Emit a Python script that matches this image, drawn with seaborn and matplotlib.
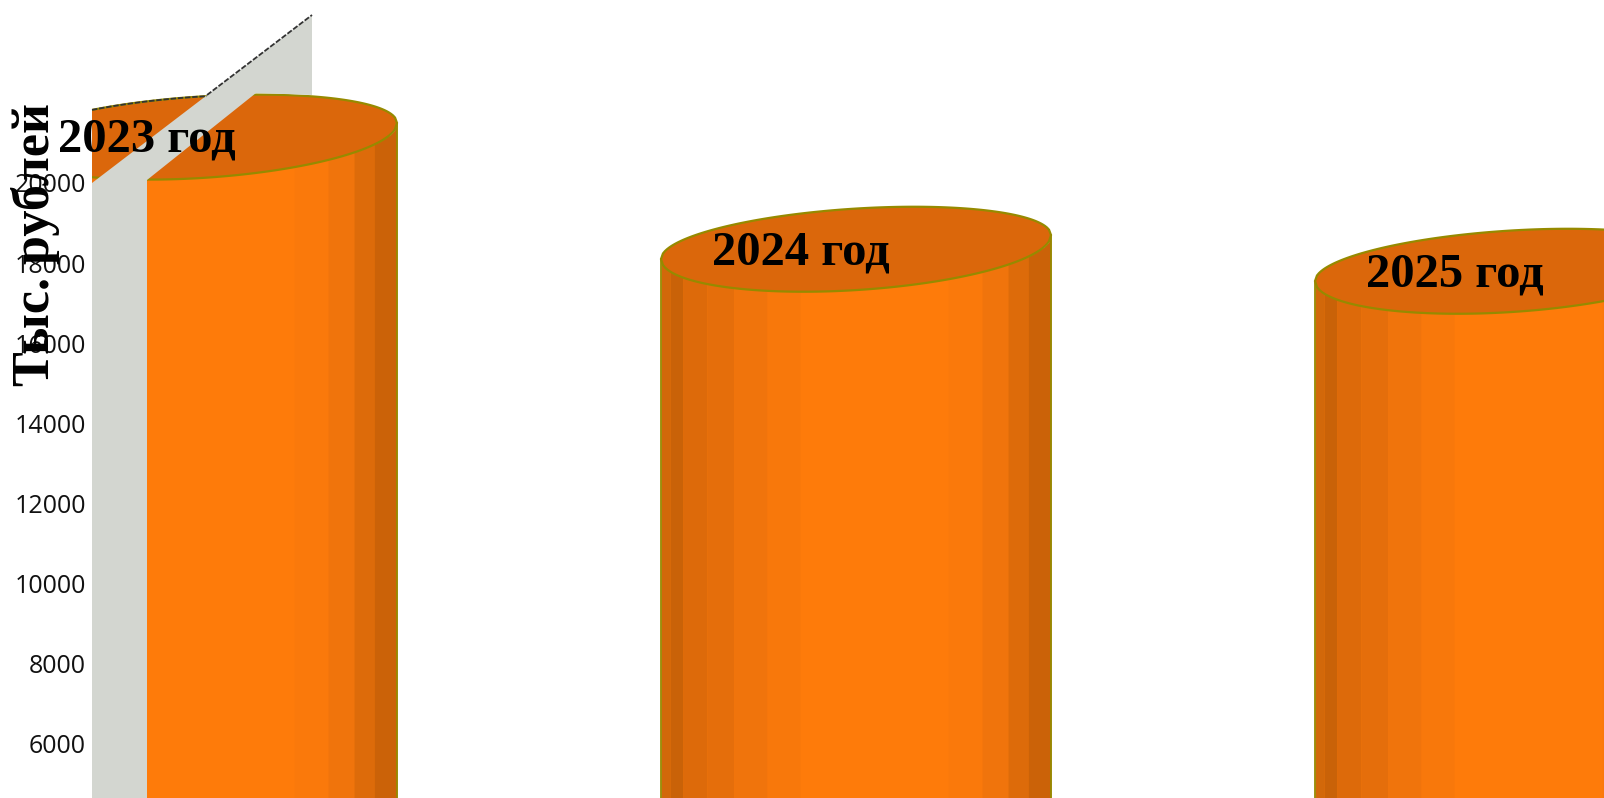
import numpy as np
import pandas as pd
import seaborn as sns
import matplotlib.pyplot as plt
from matplotlib.patches import Polygon, Rectangle
from matplotlib.transforms import Affine2D

years = ["2023 год", "2024 год", "2025 год"]
values = [21200, 18400, 17850]
tick_values = [6000, 8000, 10000, 12000, 14000, 16000, 18000, 20000]
y_title = "Тыс. рублей"

W, H = 1604, 798
BODY = "#FE7B0A"
TOP = "#DB670B"
EDGE = "#968A00"
WALL = "#D3D6D0"

# shading of the cylinder side, offsets as parts of the half width
shades = [
    (-1.000, -0.954, "#D2680A"),
    (-0.954, -0.887, "#C96208"),
    (-0.887, -0.764, "#DD6A0A"),
    (-0.764, -0.626, "#E56E0B"),
    (-0.626, -0.456, "#F0740C"),
    (-0.456, -0.287, "#F8780B"),
    (0.472, 0.646, "#FA790B"),
    (0.646, 0.779, "#F0740C"),
    (0.779, 0.882, "#DD6B0A"),
    (0.882, 1.000, "#CB6208"),
]

sns.set_theme(style="white")
plt.rcParams["font.family"] = ["Open Sans", "DejaVu Sans"]

fig = plt.figure(figsize=(W / 100, H / 100), dpi=100)
ax = fig.add_axes([0, 0, 1, 1])
px = Affine2D().scale(1 / W, -1 / H).translate(0, 1) + fig.transFigure

df = pd.DataFrame({"year": years, "value": values})
half = 195 / 654
sns.barplot(data=df, x="year", y="value", color=BODY, saturation=1,
            width=2 * half, ax=ax, zorder=1)

ax.set_xlim(-202 / 654, (W - 202) / 654)
ax.set_ylim(20000 - (H - 183) / 40.05 * 1000, 20000 + 183 / 40.05 * 1000)

b_front = 43 / 40.05 * 1000
b_back = 38.5 / 40.05 * 1000
s = 12 / 40.05 * 1000


def front_arc(u, value):
    return value + s * u - b_front * np.sqrt(1 - u ** 2)


def back_arc(u, value):
    return value + s * u + b_back * np.sqrt(1 - u ** 2)


floor = ax.get_ylim()[0] - 500
for i, (bar, value) in enumerate(zip(ax.patches, values)):
    u = np.linspace(-1, 1, 200)
    outline = np.column_stack([i + half * u, front_arc(u, value)])
    outline = np.vstack([[i - half, floor], outline, [i + half, floor]])
    bar.set_clip_path(Polygon(outline, transform=ax.transData))

    for left, right, colour in shades:
        su = np.linspace(left, right, 40)
        ax.fill_between(i + half * su, floor, front_arc(su, value),
                        color=colour, lw=0, zorder=1.2)

    ax.plot([i - half, i - half], [floor, front_arc(-1, value)], color=EDGE, lw=1.3, zorder=1.3)
    ax.plot([i + half, i + half], [floor, front_arc(1, value)], color=EDGE, lw=1.3, zorder=1.3)

    # top of the cylinder, the front arc is a bit deeper than the back one
    ax.fill(i + half * np.r_[u, u[::-1]],
            np.r_[front_arc(u, value), back_arc(u[::-1], value)],
            facecolor=TOP, edgecolor=EDGE, lw=1.6, zorder=1.5)

    ax.text(i - 144 / 654, value - 17 / 40.05 * 1000, years[i],
            family="Liberation Serif", weight="bold", fontsize=35,
            color="black", ha="left", va="baseline", zorder=3)

# back wall sits in front of the first cylinder, nothing is drawn left of it
ax.add_patch(Rectangle((0, 0), 92, H, transform=px, facecolor="white", lw=0, zorder=1.9))
ax.add_patch(Polygon([(92, H), (92, 183), (312, 15), (312, 95), (256, 93), (147, 180), (147, H)],
                     transform=px, facecolor=WALL, lw=0, zorder=1.8))
ax.plot([207, 312], [95, 15], transform=px, color="#333333", lw=1.3, ls=(0, (3, 1)), zorder=2)
du = np.linspace((92 - 202) / 195, (207 - 202) / 195, 40)
ax.plot(half * du, back_arc(du, values[0]), color="#333333", lw=1.3, ls=(0, (3, 1)), zorder=2)

sns.despine(ax=ax, left=True, bottom=True)
ax.set_axisbelow(False)
ax.set_xticks([])
ax.set_xlabel("")
ax.set_yticks(tick_values)
ax.tick_params(axis="y", length=0, pad=-62, labelsize=18, labelcolor="#111111")
ax.set_ylabel(y_title, family="Liberation Serif", weight="bold", fontsize=37.5,
              color="black", rotation=90, ha="center", va="baseline",
              rotation_mode="anchor")
ax.yaxis.set_label_coords(49 / W, 1 - 245 / H)

fig.savefig("out.png", dpi=100)
